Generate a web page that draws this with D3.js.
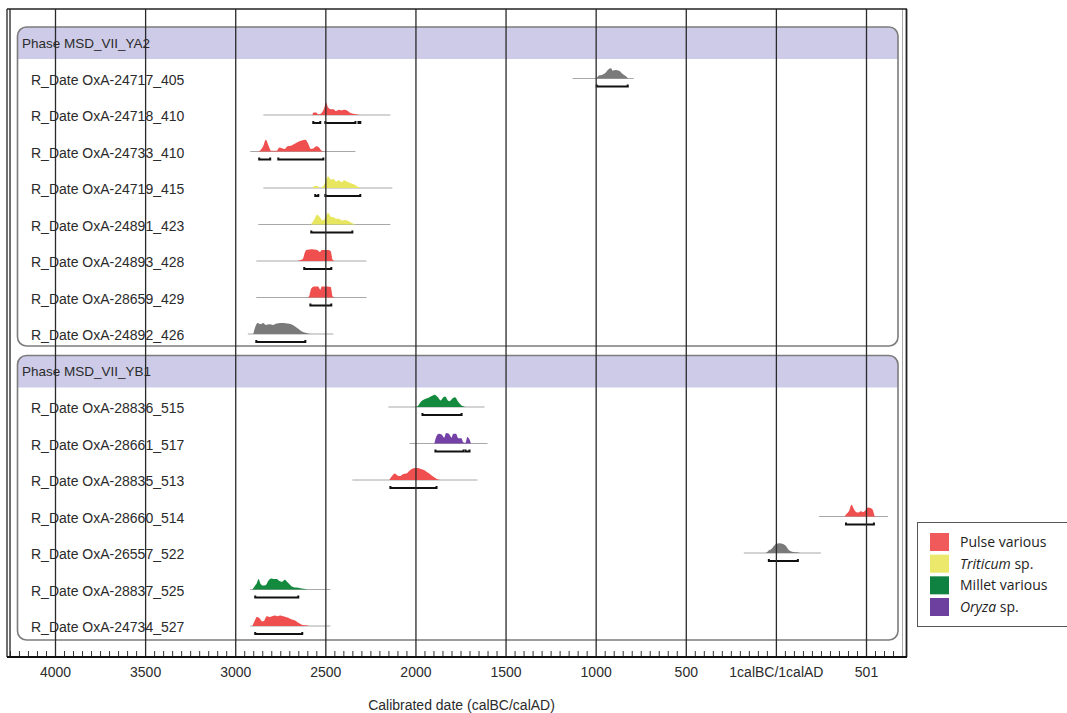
<!DOCTYPE html>
<html>
<head>
<meta charset="utf-8">
<script src="https://cdn.jsdelivr.net/npm/d3@7"></script>
<style>
  html, body { margin: 0; padding: 0; background: #fff; }
  svg { display: block; }
  .lbl { font-family: "Liberation Sans", Arial, sans-serif; fill: #2b2b2b; }
  .leg { font-family: "Open Sans", "Liberation Sans", sans-serif; fill: #222; }
</style>
</head>
<body>
<svg id="chart" width="1067" height="713"></svg>
<script>
// ---- data -------------------------------------------------------------
// years are calBC (positive) / calAD (negative)
const phases = ["Phase MSD_VII_YA2", "Phase MSD_VII_YB1"];
const phaseRows = [8, 7];

const sampleNames = [
  "R_Date OxA-24717_405", "R_Date OxA-24718_410", "R_Date OxA-24733_410",
  "R_Date OxA-24719_415", "R_Date OxA-24891_423", "R_Date OxA-24893_428",
  "R_Date OxA-28659_429", "R_Date OxA-24892_426",
  "R_Date OxA-28836_515", "R_Date OxA-28661_517", "R_Date OxA-28835_513",
  "R_Date OxA-28660_514", "R_Date OxA-26557_522", "R_Date OxA-28837_525",
  "R_Date OxA-24734_527"
];

const sampleTypes = [
  "none", "Pulse various", "Pulse various", "Triticum sp.", "Triticum sp.",
  "Pulse various", "Pulse various", "none",
  "Millet various", "Oryza sp.", "Pulse various", "Pulse various", "none",
  "Millet various", "Pulse various"
];

// extent of the prior (thin line) for each date
const priorSpans = [
  [1128, 789], [2844, 2139], [2917, 2333], [2844, 2128], [2872, 2139],
  [2883, 2272], [2883, 2272], [2930, 2456],
  [2150, 1617], [2033, 1600], [2350, 1656], [-239, -622], [178, -250],
  [2917, 2472], [2917, 2472]
];

// 95.4% ranges (brackets under each distribution)
const ranges95 = [
  [[994, 822]],
  [[2567, 2528], [2500, 2333], [2316, 2306]],
  [[2867, 2806], [2761, 2511]],
  [[2556, 2539], [2500, 2306]],
  [[2578, 2350]],
  [[2617, 2467]],
  [[2583, 2467]],
  [[2883, 2611]],
  [[1961, 1744]],
  [[1889, 1733], [1722, 1700]],
  [[2139, 1883]],
  [[-389, -544]],
  [[39, -122]],
  [[2889, 2650]],
  [[2889, 2628]]
];

// posterior densities: [year, relative probability]
const densities = [
  [[997,0],[985,0.2],[960,0.3],[945,0.45],[930,0.7],[915,0.78],[905,0.6],[890,0.65],[870,0.6],[850,0.35],[830,0.15],[820,0]],
  [[2572,0],[2565,0.2],[2550,0.2],[2540,0.05],[2525,0.1],[2510,0.4],[2495,0.95],[2485,0.6],[2470,0.45],[2455,0.45],[2440,0.3],[2425,0.4],[2410,0.35],[2395,0.4],[2380,0.35],[2360,0.15],[2330,0.05],[2300,0]],
  [[2880,0],[2860,0.1],[2845,0.4],[2830,0.9],[2815,0.45],[2800,0.05],[2785,0.05],[2770,0.05],[2755,0.3],[2740,0.25],[2725,0.2],[2710,0.4],[2690,0.45],[2670,0.6],[2650,0.75],[2630,0.85],[2610,0.9],[2595,0.6],[2580,0.2],[2565,0.25],[2550,0.4],[2535,0.3],[2520,0.05],[2505,0]],
  [[2572,0],[2560,0.15],[2545,0.15],[2530,0],[2515,0.1],[2500,0.45],[2485,0.9],[2470,0.65],[2455,0.7],[2440,0.5],[2425,0.6],[2410,0.45],[2395,0.6],[2380,0.5],[2365,0.4],[2345,0.3],[2320,0.1],[2300,0]],
  [[2580,0],[2565,0.3],[2545,0.75],[2530,0.55],[2515,0.3],[2500,0.5],[2485,0.9],[2470,0.6],[2455,0.55],[2440,0.45],[2425,0.45],[2405,0.3],[2390,0.35],[2370,0.25],[2350,0.1],[2330,0]],
  [[2660,0],[2640,0.05],[2625,0.15],[2615,0.6],[2605,0.85],[2575,0.9],[2545,0.85],[2530,0.7],[2520,0.85],[2485,0.85],[2470,0.75],[2460,0.1],[2445,0]],
  [[2600,0],[2590,0.1],[2578,0.7],[2560,0.85],[2540,0.85],[2528,0.6],[2520,0.85],[2490,0.85],[2470,0.8],[2460,0.1],[2445,0]],
  [[2900,0],[2890,0.5],[2875,0.85],[2860,0.75],[2845,0.85],[2830,0.7],[2810,0.75],[2790,0.7],[2770,0.8],[2750,0.85],[2730,0.85],[2710,0.8],[2690,0.75],[2670,0.6],[2650,0.4],[2630,0.2],[2610,0.1],[2580,0]],
  [[2000,0],[1985,0.1],[1970,0.4],[1950,0.6],[1930,0.7],[1910,0.85],[1893,0.95],[1875,0.75],[1860,0.5],[1845,0.75],[1835,0.8],[1820,0.5],[1810,0.45],[1795,0.65],[1780,0.75],[1765,0.45],[1750,0.2],[1735,0.05],[1720,0]],
  [[1895,0],[1885,0.5],[1870,0.75],[1855,0.7],[1840,0.45],[1830,0.8],[1815,0.75],[1800,0.45],[1790,0.75],[1775,0.75],[1762,0.4],[1745,0.4],[1735,0.1],[1722,0.05],[1712,0.5],[1700,0.3],[1692,0]],
  [[2145,0],[2130,0.3],[2115,0.5],[2100,0.35],[2085,0.3],[2070,0.45],[2050,0.5],[2030,0.75],[2010,0.9],[1990,0.92],[1970,0.85],[1950,0.75],[1930,0.55],[1910,0.35],[1890,0.15],[1878,0.05],[1860,0]],
  [[-380,0],[-392,0.2],[-405,0.4],[-420,0.9],[-432,0.6],[-445,0.35],[-458,0.3],[-470,0.4],[-482,0.35],[-495,0.45],[-510,0.7],[-525,0.65],[-538,0.5],[-548,0.05],[-555,0]],
  [[60,0],[50,0.05],[40,0.2],[25,0.3],[10,0.55],[0,0.7],[-20,0.75],[-40,0.7],[-55,0.55],[-70,0.25],[-90,0.1],[-115,0.05],[-135,0]],
  [[2905,0],[2895,0.2],[2880,0.5],[2870,0.8],[2860,0.45],[2845,0.3],[2830,0.35],[2815,0.7],[2800,0.85],[2785,0.8],[2770,0.8],[2755,0.65],[2740,0.6],[2725,0.75],[2710,0.55],[2695,0.35],[2680,0.2],[2660,0.15],[2640,0.1],[2620,0.05],[2600,0]],
  [[2905,0],[2895,0.3],[2880,0.7],[2865,0.6],[2850,0.35],[2840,0.4],[2825,0.75],[2810,0.7],[2795,0.75],[2780,0.8],[2765,0.75],[2750,0.8],[2735,0.75],[2720,0.7],[2700,0.6],[2685,0.5],[2665,0.4],[2650,0.25],[2630,0.1],[2610,0.05],[2590,0]]
];

const majorTicks = [4000, 3500, 3000, 2500, 2000, 1500, 1000, 500, 0, -500];
const majorTickLabels = ["4000", "3500", "3000", "2500", "2000", "1500", "1000", "500", "1calBC/1calAD", "501"];
const axisTitle = "Calibrated date (calBC/calAD)";

const legendItems = [
  { pre: "Pulse various", ital: "", post: "" },
  { pre: "", ital: "Triticum", post: " sp." },
  { pre: "Millet various", ital: "", post: "" },
  { pre: "", ital: "Oryza", post: " sp." }
];
const legendTypes = ["Pulse various", "Triticum sp.", "Millet various", "Oryza sp."];

// ---- styles -----------------------------------------------------------
const typeColor = d3.scaleOrdinal()
  .domain(["none", "Pulse various", "Triticum sp.", "Millet various", "Oryza sp."])
  .range(["#7a7a7a", "#ef4f4f", "#e8e55e", "#138a3e", "#7441a6"]);
const legendColor = d3.scaleOrdinal()
  .domain(legendTypes)
  .range(["#f05a5a", "#ece86c", "#0f8241", "#6d3f9f"]);

// ---- layout -----------------------------------------------------------
const svg = d3.select("#chart");
const frame = { left: 10, right: 905, top: 9, bottom: 657 };

const x = d3.scaleLinear().domain([4000, -500]).range([55, 866]);

// one slot per header / date line
const slots = [];
phases.forEach((p, i) => {
  slots.push({ kind: "phase", text: p, phase: i });
  let start = d3.sum(phaseRows.slice(0, i));
  for (let k = 0; k < phaseRows[i]; k++) slots.push({ kind: "date", idx: start + k, phase: i });
});
const y = d3.scaleLinear().domain([0, slots.length - 1]).range([43, 627]);

// ---- phase boxes ------------------------------------------------------
const boxL = 17.5, boxR = 898, rad = 9;
phases.forEach((p, i) => {
  const headSlot = slots.findIndex(s => s.kind === "phase" && s.phase === i);
  const lastSlot = headSlot + phaseRows[i];
  const top = y(headSlot) - 16, headBot = y(headSlot) + 16;
  const bot = y(lastSlot) + (i === 0 ? 11 : 13);

  // header band with rounded top corners
  svg.append("path")
    .attr("d", `M${boxL},${headBot} V${top + rad} Q${boxL},${top} ${boxL + rad},${top} H${boxR - rad} Q${boxR},${top} ${boxR},${top + rad} V${headBot} Z`)
    .attr("fill", "#cdcbe8");

  svg.append("rect")
    .attr("x", boxL).attr("y", top)
    .attr("width", boxR - boxL).attr("height", bot - top)
    .attr("rx", rad).attr("ry", rad)
    .attr("fill", "none").attr("stroke", "#7c7c7c").attr("stroke-width", 1.6);

  svg.append("text").attr("class", "lbl")
    .attr("x", 22).attr("y", y(headSlot) + 4.5)
    .attr("font-size", 13.5)
    .text(p);
});

// ---- date rows --------------------------------------------------------
const area = d3.area().curve(d3.curveMonotoneX);
slots.forEach((s, si) => {
  if (s.kind !== "date") return;
  const i = s.idx;
  const base = y(si) - 1;
  const g = svg.append("g");

  g.append("text").attr("class", "lbl")
    .attr("x", 31).attr("y", y(si) + 5)
    .attr("font-size", 14)
    .text(sampleNames[i]);

  const span = priorSpans[i];
  g.append("line")
    .attr("x1", x(span[0])).attr("x2", x(span[1]))
    .attr("y1", base).attr("y2", base)
    .attr("stroke", "#a8a8a8").attr("stroke-width", 1);

  area.x(d => x(d[0])).y0(base).y1(d => base - d[1] * 13);
  g.append("path")
    .datum(densities[i])
    .attr("d", area)
    .attr("fill", typeColor(sampleTypes[i]));

  const by = base + 8;
  ranges95[i].forEach(r => {
    const x0 = x(r[0]), x1 = x(r[1]);
    g.append("path")
      .attr("d", `M${x0},${by - 2} V${by} H${x1} V${by - 2}`)
      .attr("fill", "none").attr("stroke", "#111").attr("stroke-width", 2);
  });
});

// ---- grid and axis ----------------------------------------------------
const grid = d3.axisBottom(x).tickValues(majorTicks)
  .tickSize(-(frame.bottom - frame.top)).tickFormat("");
svg.append("g").attr("transform", `translate(0,${frame.bottom})`).call(grid)
  .call(g => g.select(".domain").remove())
  .call(g => g.selectAll("line").attr("stroke", "#2a2a2a").attr("stroke-width", 1.3));

const minorTicks = d3.range(4250, -701, -50).filter(v => !majorTicks.includes(v));
const minor = d3.axisBottom(x).tickValues(minorTicks).tickSize(-6).tickFormat("");
svg.append("g").attr("transform", `translate(0,${frame.bottom})`).call(minor)
  .call(g => g.select(".domain").remove())
  .call(g => g.selectAll("line").attr("stroke", "#333").attr("stroke-width", 1));

const labels = d3.axisBottom(x).tickValues(majorTicks).tickSize(0)
  .tickPadding(20).tickFormat((d, k) => majorTickLabels[k]);
svg.append("g").attr("transform", `translate(0,${frame.bottom})`).call(labels)
  .call(g => g.select(".domain").remove())
  .call(g => g.selectAll("text")
    .attr("font-family", "Liberation Sans, Arial, sans-serif")
    .attr("font-size", 14).attr("fill", "#2b2b2b").attr("dy", 0));

// frame
svg.append("line").attr("x1", 7).attr("x2", 7).attr("y1", frame.top).attr("y2", frame.bottom)
  .attr("stroke", "#222").attr("stroke-width", 1.3);
svg.append("line").attr("x1", frame.left).attr("x2", frame.left).attr("y1", frame.top).attr("y2", frame.bottom)
  .attr("stroke", "#222").attr("stroke-width", 1.3);
svg.append("line").attr("x1", 902.5).attr("x2", 902.5).attr("y1", frame.top).attr("y2", frame.bottom)
  .attr("stroke", "#aaa").attr("stroke-width", 1);
svg.append("line").attr("x1", frame.right + 1.5).attr("x2", frame.right + 1.5).attr("y1", frame.top).attr("y2", frame.bottom)
  .attr("stroke", "#222").attr("stroke-width", 1.8);
svg.append("line").attr("x1", 7).attr("x2", frame.right + 2).attr("y1", frame.top).attr("y2", frame.top)
  .attr("stroke", "#222").attr("stroke-width", 1.3);
svg.append("line").attr("x1", 7).attr("x2", frame.right + 2).attr("y1", frame.bottom).attr("y2", frame.bottom)
  .attr("stroke", "#111").attr("stroke-width", 2.2);

svg.append("text").attr("class", "lbl")
  .attr("x", (frame.left + frame.right) / 2 + 4).attr("y", 710)
  .attr("text-anchor", "middle").attr("font-size", 14)
  .text(axisTitle);

// ---- legend -----------------------------------------------------------
const leg = svg.append("g");
leg.append("rect").attr("x", 917.5).attr("y", 522.5).attr("width", 160).attr("height", 104)
  .attr("fill", "#fff").attr("stroke", "#555").attr("stroke-width", 1);
const ly = d3.scalePoint().domain(legendTypes).range([542, 607]);
legendItems.forEach((it, k) => {
  const t = legendTypes[k];
  leg.append("rect").attr("x", 930).attr("y", ly(t) - 9).attr("width", 19).attr("height", 18)
    .attr("fill", legendColor(t));
  const tx = leg.append("text").attr("class", "leg").attr("x", 960).attr("y", ly(t) + 5)
    .attr("font-size", 14);
  if (it.pre) tx.append("tspan").text(it.pre);
  if (it.ital) tx.append("tspan").attr("font-style", "italic").text(it.ital);
  if (it.post) tx.append("tspan").text(it.post);
});
</script>
</body>
</html>
